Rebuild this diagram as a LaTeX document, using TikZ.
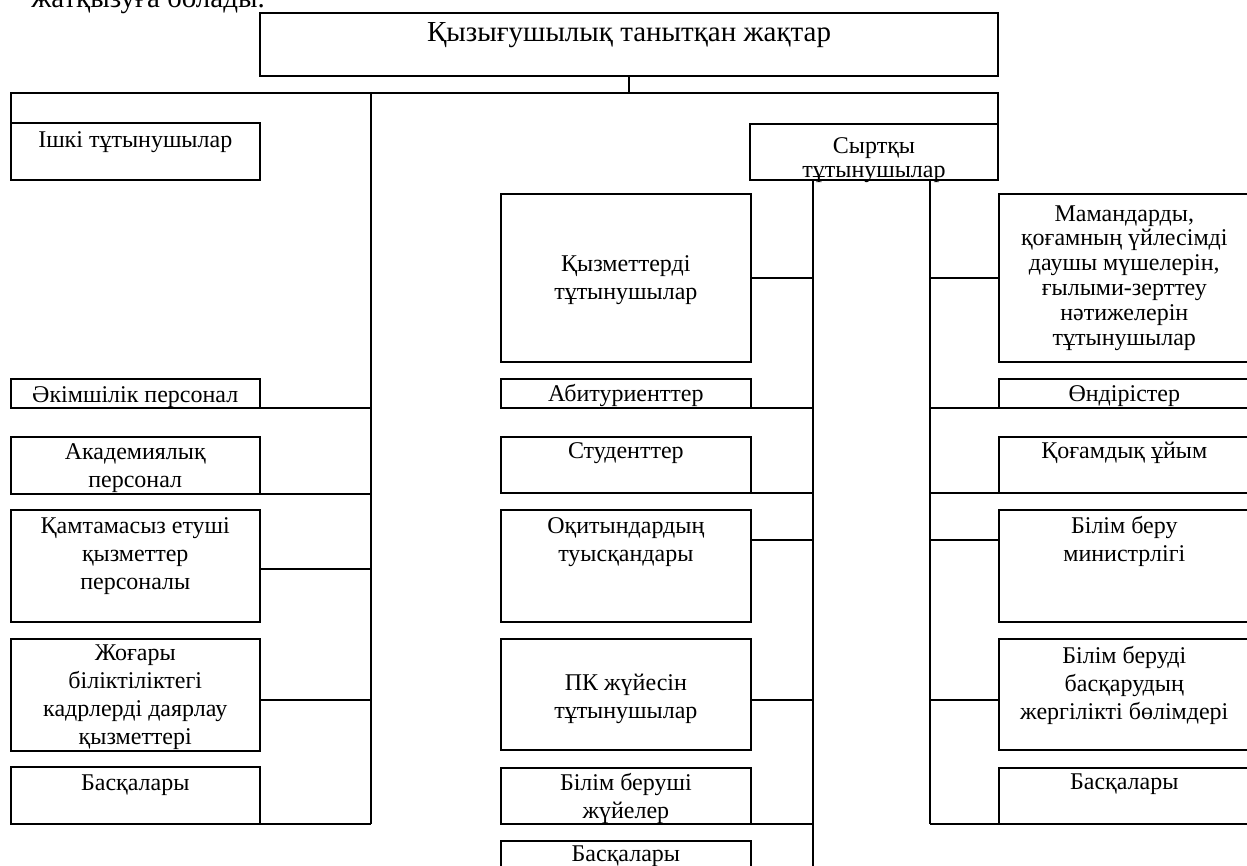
\documentclass[tikz,border=0pt]{standalone}
\usepackage{fontspec}
\setmainfont{Liberation Serif}
\usetikzlibrary{%
  calc,%
  positioning% wg. " of "
}

% box text: width, height, first baseline, text
\newcommand{\cell}[4]{\parbox[c][#2pt][t]{#1pt}{\centering\rule{0pt}{#3pt}#4\par}}

\begin{document}
\begin{tikzpicture}[
  x=1pt, y=-1pt, line width=2pt,
  font=\fontsize{24}{28}\selectfont,
  box/.style={draw, inner sep=0pt, outer sep=0pt, anchor=north west},
  tight/.style={font=\fontsize{24}{24.8}\selectfont}
]
\useasboundingbox (0,0) rectangle (1247,865);
\clip (0,0) rectangle (1247,865);

\node[anchor=base west, font=\fontsize{29}{30}\selectfont] (prev) at (27,7) {жатқызуға болады.};

\node[box, font=\fontsize{29}{30}\selectfont] (head) at (260,12.6)
  {\cell{738}{63}{28.4}{Қызығушылық танытқан жақтар}};
\node[box] (ishki) at (10.5,123) {\cell{249.5}{57}{24}{Ішкі тұтынушылар}};
\node[box, tight] (syrt) at (750,123.5) {\cell{248}{56.5}{29.5}{Сыртқы\\тұтынушылар}};

% left column
\foreach \n/\y/\h/\b/\t in {
  akim/379/28.7/23.3/{Әкімшілік персонал},
  akad/437/56.7/22.3/{Академиялық\\персонал},
  kamt/510/111.7/23.3/{Қамтамасыз етуші\\қызметтер\\персоналы},
  zhog/639/111.7/21/{Жоғары\\біліктіліктегі\\кадрлерді даярлау\\қызметтері},
  lbask/767.3/56.7/22.7/{Басқалары}} {
  \node[box] (\n) at (10.5,\y) {\cell{249.5}{\h}{\b}{\t}};
}

% middle column
\foreach \n/\y/\h/\b/\t in {
  qyz/194/167.7/77.7/{Қызметтерді\\тұтынушылар},
  abit/379/28.7/22.7/{Абитуриенттер},
  stud/436.7/56.6/21.6/{Студенттер},
  oqyt/510/111.7/23.3/{Оқитындардың\\туысқандары},
  pk/639/111/51/{ПК жүйесін\\тұтынушылар},
  bilimb/767.7/56.3/22.3/{Білім беруші\\жүйелер},
  mbask/840.7/57/21/{Басқалары}} {
  \node[box] (\n) at (500.7,\y) {\cell{250.3}{\h}{\b}{\t}};
}

% right column
\node[box, tight] (maman) at (999.3,194)
  {\cell{250}{167.7}{27}{Мамандарды,\\қоғамның үйлесімді\\даушы мүшелерін,\\ғылыми-зерттеу\\нәтижелерін\\тұтынушылар}};
\foreach \n/\y/\h/\b/\t in {
  ondir/379/28.7/22.7/{Өндірістер},
  qogam/436.7/56.6/21.6/{Қоғамдық ұйым},
  minis/510/111.7/23.3/{Білім беру\\министрлігі},
  jergil/639/111/24.3/{Білім беруді\\басқарудың\\жергілікті бөлімдері},
  rbask/767.7/56.3/22/{Басқалары}} {
  \node[box] (\n) at (999.3,\y) {\cell{250}{\h}{\b}{\t}};
}

% bus
\coordinate (busl) at (10.5,92.5);
\coordinate (busr) at (998,92.5);
\draw (head.south) -- (head.south |- busl);
\draw (ishki.north west) -- (busl) -- (busr) -- (syrt.north east);

% trunks
\coordinate (ltop) at (371,92.5);
\coordinate (mtop) at (812.5,180);
\coordinate (mend) at (812.5,900);
\coordinate (rtop) at (930,180);
\draw (ltop) -- (ltop |- lbask.south);
\draw (mtop) -- (mend);
\draw (rtop) -- (rtop |- rbask.south);

% branches
\foreach \n/\dy in {akim/-14.35, akad/-28.35, kamt/-3.15, zhog/-5.15, lbask/-28.35} {
  \coordinate (\n c) at ([yshift=\dy pt]\n.east);
  \draw (\n c) -- (\n c -| ltop);
}
\foreach \n/\dy in {qyz/0, abit/-14.35, stud/-28.3, oqyt/25.85, pk/-5.5, bilimb/-28.15} {
  \coordinate (\n c) at ([yshift=\dy pt]\n.east);
  \draw (\n c) -- (\n c -| mtop);
}
\foreach \n/\dy in {maman/0, ondir/-14.35, qogam/-28.3, minis/25.85, jergil/-5.5, rbask/-28.15} {
  \coordinate (\n c) at ([yshift=\dy pt]\n.west);
  \draw (\n c) -- (\n c -| rtop);
}
\end{tikzpicture}
\end{document}
